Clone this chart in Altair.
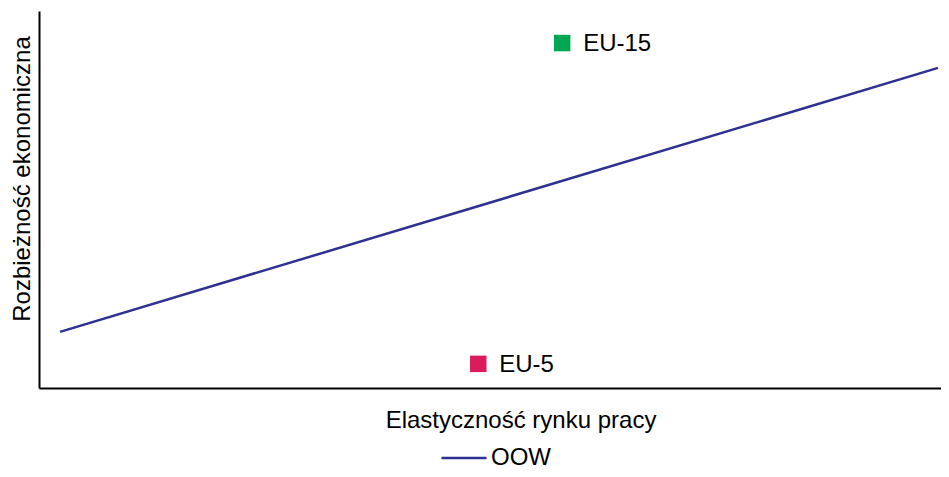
import altair as alt
import pandas as pd

# Trend line (OOW)
line_x = [0.233, 9.967]
line_y = [1.49, 8.49]
line_series = ["OOW", "OOW"]

# Points
pt_labels = ["EU-15", "EU-5"]
pt_x = [5.80, 4.87]
pt_y = [9.15, 0.64]
pt_colors = ["#00A651", "#DA1C5C"]

line_df = pd.DataFrame({"x": line_x, "y": line_y, "series": line_series})
pt_df = pd.DataFrame({"x": pt_x, "y": pt_y, "label": pt_labels, "color": pt_colors})

FONT = "Liberation Sans"
FS = 24
xscale = alt.Scale(domain=[0, 10], nice=False, zero=False)
yscale = alt.Scale(domain=[0, 10], nice=False, zero=False)

xaxis = alt.Axis(title="Elastyczność rynku pracy", labels=False, ticks=False, grid=False,
                 domainColor="black", domainWidth=2,
                 titleFont=FONT, titleFontSize=FS, titleFontWeight="normal", titleColor="black",
                 titleX=481.5, titleY=39, titleBaseline="alphabetic", titleAlign="center")
yaxis = alt.Axis(title="Rozbieżność ekonomiczna", labels=False, ticks=False, grid=False,
                 domainColor="black", domainWidth=2,
                 titleFont=FONT, titleFontSize=FS, titleFontWeight="normal", titleColor="black",
                 titleX=-10, titleY=167.5, titleBaseline="alphabetic", titleAlign="center", titleAngle=270)

line = alt.Chart(line_df).mark_line(strokeWidth=2.5).encode(
    x=alt.X("x:Q", scale=xscale, axis=xaxis),
    y=alt.Y("y:Q", scale=yscale, axis=yaxis),
    color=alt.Color("series:N", scale=alt.Scale(domain=["OOW"], range=["#2E3192"]),
                    legend=alt.Legend(title=None, orient="none", legendX=401, legendY=423,
                                      symbolType="stroke", symbolSize=2025, symbolStrokeWidth=2.5,
                                      labelFont=FONT, labelFontSize=FS, labelColor="black",
                                      labelOffset=3, padding=0)),
)

squares = alt.Chart(pt_df).mark_square(size=272, opacity=1).encode(
    x=alt.X("x:Q", scale=xscale),
    y=alt.Y("y:Q", scale=yscale),
    color=alt.Color("color:N", scale=None),
)

labels = alt.Chart(pt_df).mark_text(align="left", baseline="middle", dx=21, dy=1,
                                    font=FONT, fontSize=FS, color="black").encode(
    x=alt.X("x:Q", scale=xscale),
    y=alt.Y("y:Q", scale=yscale),
    text="label:N",
)

chart = alt.layer(line, squares, labels).properties(
    width=902, height=377,
    autosize=alt.AutoSizeParams(type="none"),
    padding={"left": 31, "top": 3, "right": 0, "bottom": 81},
    background="white",
).configure_view(stroke=None)

chart.save("out.html", embed_options={"renderer": "svg", "actions": False})
